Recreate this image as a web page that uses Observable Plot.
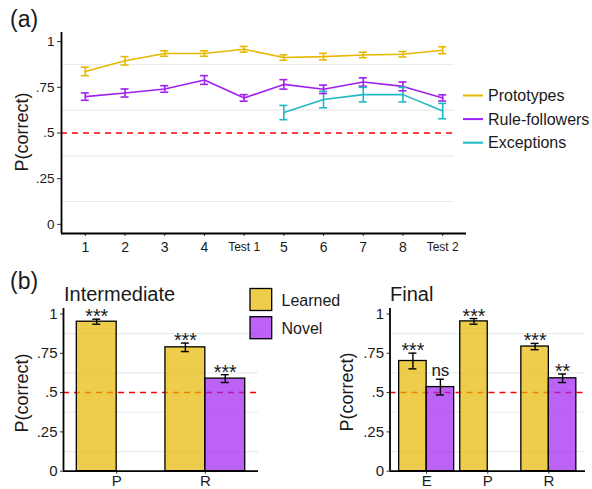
<!DOCTYPE html>
<html>
<head>
<meta charset="utf-8">
<script src="https://cdn.jsdelivr.net/npm/d3@7"></script>
<script src="https://cdn.jsdelivr.net/npm/@observablehq/plot@0.6"></script>
<style>
  html, body { margin: 0; padding: 0; background: white; }
  #root { position: relative; width: 592px; height: 489px; overflow: hidden; font-family: "Liberation Sans", Arial, sans-serif; }
  #root svg { position: absolute; left: 0; top: 0; }
</style>
</head>
<body>
<div id="root"></div>
<script>
// ---------- Data: panel (a) ----------
const sessions = ["1", "2", "3", "4", "Test 1", "5", "6", "7", "8", "Test 2"];
const seriesNames = ["Prototypes", "Rule-followers", "Exceptions"];
const seriesColors = ["#E7B800", "#A020F0", "#1FB8C3"];
const protoMean = [0.837, 0.895, 0.935, 0.935, 0.958, 0.913, 0.918, 0.927, 0.931, 0.953];
const protoErr  = [0.023, 0.023, 0.015, 0.015, 0.016, 0.015, 0.018, 0.015, 0.015, 0.019];
const ruleMean  = [0.699, 0.719, 0.741, 0.790, 0.692, 0.766, 0.739, 0.779, 0.755, 0.692];
const ruleErr   = [0.020, 0.022, 0.018, 0.024, 0.018, 0.026, 0.023, 0.023, 0.024, 0.017];
const excMean   = [null, null, null, null, null, 0.612, 0.683, 0.710, 0.710, 0.620];
const excErr    = [null, null, null, null, null, 0.039, 0.045, 0.040, 0.040, 0.042];

// ---------- Data: panel (b) ----------
const barTypes = ["Learned", "Novel"];
const barColors = ["#E7B800", "#A020F0"];
const intGroups = ["P", "R"];
const intLearned = [0.951, 0.788];
const intLearnedErr = [0.016, 0.027];
const intLearnedSig = ["***", "***"];
const intNovel = [null, 0.589];
const intNovelErr = [null, 0.025];
const intNovelSig = [null, "***"];

const finGroups = ["E", "P", "R"];
const finLearned = [0.701, 0.953, 0.793];
const finLearnedErr = [0.050, 0.018, 0.020];
const finLearnedSig = ["***", "***", "***"];
const finNovel = [0.535, null, 0.591];
const finNovelErr = [0.050, null, 0.027];
const finNovelSig = ["ns", null, "**"];

const yTicks = [0, 0.25, 0.5, 0.75, 1];
const yTickLabels = ["0", ".25", ".5", ".75", "1"];
const minorGrid = [0.125, 0.375, 0.625, 0.875];
const chance = 0.5;

const FONT = "'Liberation Sans', Arial, sans-serif";
const root = document.getElementById("root");
const baseStyle = {fontFamily: FONT, background: "transparent", color: "#1a1a1a", overflow: "visible"};

// ---------- Panel (a) ----------
const lineRows = [];
[protoMean, ruleMean, excMean].forEach((arr, s) => {
  const errs = [protoErr, ruleErr, excErr][s];
  arr.forEach((v, i) => {
    if (v == null) return;
    lineRows.push({series: seriesNames[s], idx: i + 1, value: v, lo: v - errs[i], hi: v + errs[i]});
  });
});
const xDomA = [0.4, sessions.length + 0.6];
const yDomA = [-0.05, 1.05];
const numIdx = sessions.map((s, i) => i + 1).filter(i => !sessions[i - 1].startsWith("Test"));
const testIdx = sessions.map((s, i) => i + 1).filter(i => sessions[i - 1].startsWith("Test"));

const plotA = Plot.plot({
  width: 592, height: 489,
  marginLeft: 61, marginRight: 126, marginTop: 32, marginBottom: 256,
  style: baseStyle,
  x: {domain: xDomA},
  y: {domain: yDomA},
  color: {domain: seriesNames, range: seriesColors},
  marks: [
    Plot.ruleY(minorGrid, {stroke: "#ebebeb", strokeWidth: 1.2, insetRight: 12}),
    Plot.ruleY([chance], {stroke: "#ff0000", strokeWidth: 1.5, strokeDasharray: "6,5", insetRight: 12}),
    Plot.line(lineRows, {x: "idx", y: "value", z: "series", stroke: "series", strokeWidth: 1.6}),
    Plot.ruleX(lineRows, {x: "idx", y1: "lo", y2: "hi", stroke: "series", strokeWidth: 1.6}),
    Plot.ruleY(lineRows, {y: "lo", x1: "idx", x2: "idx", insetLeft: -4, insetRight: -4, stroke: "series", strokeWidth: 1.6}),
    Plot.ruleY(lineRows, {y: "hi", x1: "idx", x2: "idx", insetLeft: -4, insetRight: -4, stroke: "series", strokeWidth: 1.6}),
    Plot.axisY({ticks: yTicks, tickFormat: d => yTickLabels[yTicks.indexOf(d)], tickSize: 4, tickPadding: 3, fontSize: 13.5, label: null, stroke: "#333"}),
    Plot.axisX({ticks: numIdx, tickFormat: i => sessions[i - 1], tickSize: 3, tickPadding: 6, fontSize: 14, label: null, stroke: "#333"}),
    Plot.axisX({ticks: testIdx, tickFormat: i => sessions[i - 1], tickSize: 3, tickPadding: 6, fontSize: 12, label: null, stroke: "#333"}),
    Plot.ruleX([xDomA[0]], {stroke: "black", strokeWidth: 1.8}),
    Plot.ruleY([yDomA[0]], {stroke: "black", strokeWidth: 1.8})
  ]
});
root.appendChild(plotA);

// ---------- Panel (b) ----------
function barPlot(groups, learned, lErr, lSig, novel, nErr, nSig, mLeft, mRight) {
  const rows = [];
  const bw = 0.45;
  groups.forEach((g, i) => {
    const pos = i + 1;
    if (learned[i] != null) rows.push({g, type: "Learned", value: learned[i], lo: learned[i] - lErr[i], hi: learned[i] + lErr[i], sig: lSig[i], x1: pos - bw, x2: pos, mid: pos - bw / 2});
    if (novel[i] != null) rows.push({g, type: "Novel", value: novel[i], lo: novel[i] - nErr[i], hi: novel[i] + nErr[i], sig: nSig[i], x1: pos, x2: pos + bw, mid: pos + bw / 2});
  });
  const xDom = [0.4, groups.length + 0.6];
  const yDom = [0, 1.035];
  const gPos = groups.map((g, i) => i + 1);
  const stars = rows.filter(d => d.sig && d.sig !== "ns");
  const ns = rows.filter(d => d.sig === "ns");
  return Plot.plot({
    width: 592, height: 489,
    marginLeft: mLeft, marginRight: mRight, marginTop: 308, marginBottom: 18.3,
    style: baseStyle,
    x: {domain: xDom},
    y: {domain: yDom},
    color: {domain: barTypes, range: barColors},
    marks: [
      Plot.ruleY(minorGrid, {stroke: "#ebebeb", strokeWidth: 1.2}),
      Plot.ruleY([chance], {stroke: "#ff0000", strokeWidth: 1.5, strokeDasharray: "6,5"}),
      Plot.rectY(rows, {x1: "x1", x2: "x2", y1: 0, y2: "value", fill: "type", fillOpacity: 0.7, stroke: "black", strokeWidth: 1.3}),
      Plot.ruleX(rows, {x: "mid", y1: "lo", y2: "hi", stroke: "black", strokeWidth: 1.4}),
      Plot.ruleY(rows, {y: "lo", x1: "mid", x2: "mid", insetLeft: -4, insetRight: -4, stroke: "black", strokeWidth: 1.4}),
      Plot.ruleY(rows, {y: "hi", x1: "mid", x2: "mid", insetLeft: -4, insetRight: -4, stroke: "black", strokeWidth: 1.4}),
      Plot.text(stars, {x: "mid", y: "hi", text: "sig", lineAnchor: "bottom", dy: 4, fontSize: 19.5, fill: "#1a1a1a"}),
      Plot.text(ns, {x: "mid", y: "hi", text: "sig", lineAnchor: "bottom", dy: -3, fontSize: 17, fill: "#1a1a1a"}),
      Plot.axisY({ticks: yTicks, tickFormat: d => yTickLabels[yTicks.indexOf(d)], tickSize: 3, tickPadding: 3, fontSize: 15, label: null, stroke: "#333"}),
      Plot.axisX({ticks: gPos, tickFormat: i => groups[i - 1], tickSize: 3, tickPadding: 1, fontSize: 15, label: null, stroke: "#333"}),
      Plot.ruleX([xDom[0]], {stroke: "black", strokeWidth: 1.8}),
      Plot.ruleY([yDom[0]], {stroke: "black", strokeWidth: 1.8})
    ]
  });
}
root.appendChild(barPlot(intGroups, intLearned, intLearnedErr, intLearnedSig, intNovel, intNovelErr, intNovelSig, 63, 334));
root.appendChild(barPlot(finGroups, finLearned, finLearnedErr, finLearnedSig, finNovel, finNovelErr, finNovelSig, 389.5, 7));

// ---------- Annotations: titles, axis titles, legends ----------
const ann = d3.create("svg").attr("width", 592).attr("height", 489)
  .style("font-family", FONT).style("pointer-events", "none");
const txt = (x, y, s, size, extra = {}) => {
  const t = ann.append("text").attr("x", x).attr("y", y).attr("font-size", size).attr("fill", "#1a1a1a").text(s);
  for (const k in extra) t.attr(k, extra[k]);
  return t;
};
txt(10, 27, "(a)", 23);
txt(10, 289, "(b)", 23);
txt(64, 301, "Intermediate", 20);
txt(390, 301, "Final", 20);
[[22, 132], [21.5, 393], [346.5, 392]].forEach(([x, y]) => {
  ann.append("text").attr("transform", `translate(${x},${y}) rotate(-90)`)
    .attr("text-anchor", "middle").attr("dominant-baseline", "central")
    .attr("font-size", 18).attr("fill", "#1a1a1a").text("P(correct)");
});
// legend (a)
seriesNames.forEach((name, i) => {
  const y = 95.5 + i * 23.6;
  ann.append("line").attr("x1", 463).attr("x2", 483).attr("y1", y).attr("y2", y)
    .attr("stroke", seriesColors[i]).attr("stroke-width", 2);
  txt(488, y, name, 16, {"dominant-baseline": "central"});
});
// legend (b)
barTypes.forEach((name, i) => {
  const y = 288.5 + i * 28.2;
  ann.append("rect").attr("x", 250).attr("y", y).attr("width", 21.7).attr("height", 22)
    .attr("fill", barColors[i]).attr("fill-opacity", 0.7).attr("stroke", "black").attr("stroke-width", 1.3);
  txt(281.5, y + 11.5, name, 16, {"dominant-baseline": "central"});
});
root.appendChild(ann.node());
</script>
</body>
</html>
